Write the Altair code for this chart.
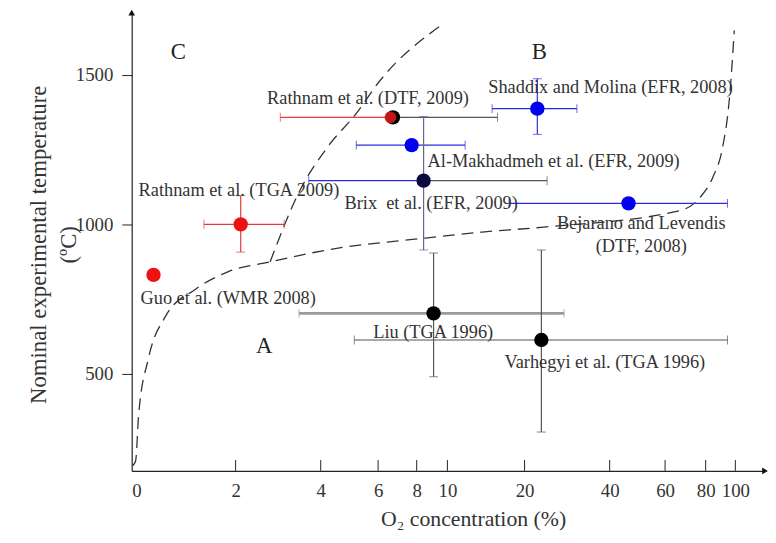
import altair as alt
import pandas as pd

# ---------------- data ----------------
x_ticks = [0, 2, 4, 6, 8, 10, 20, 40, 60, 80, 100]
y_ticks = [500, 1000, 1500]

study = ["Guo", "Rathnam TGA", "Rathnam DTF", "Shaddix", "Al-Makhadmeh",
         "Brix", "Bejarano", "Liu", "Varhegyi"]
o2 = [0.42, 2.12, 6.77, 23.0, 7.74, 8.45, 46.8, 9.1, 23.95]
temp = [831, 1000, 1358, 1387, 1265, 1146, 1070, 702, 613]
o2_lo = [None, 1.39, 3.05, 15.8, 5.24, 3.72, 18.0, 3.49, 5.17]
o2_hi = [None, 3.14, 16.5, 32.3, 12.3, 25.3, 94.7, 29.3, 94.7]
t_lo = [None, 907, None, 1301, None, 914, None, 490, 305]
t_hi = [None, 1096, None, 1487, None, 1361, None, 904, 914]

# boundary curves (dashed)
curve1_x = [0.02, 0.076, 0.133, 0.32, 0.65, 1.22, 1.85, 2.81, 4.21, 8.58, 14.5,
            23.95, 67.3, 77.1, 84.7, 91.3, 96.0, 99.3]
curve1_y = [192, 209, 361, 550, 692, 782, 841, 874, 914, 954, 974,
            990, 1046, 1089, 1156, 1255, 1420, 1649]
curve2_x = [2.81, 3.51, 4.21, 5.24, 6.05, 9.68]
curve2_y = [874, 1113, 1255, 1371, 1477, 1669]

labels = ["Rathnam et al. (DTF, 2009)", "Shaddix and Molina (EFR, 2008)",
          "Al-Makhadmeh et al. (EFR, 2009)", "Rathnam et al. (TGA 2009)",
          "Brix\u00a0 et al. (EFR, 2009)", "Bejarano and Levendis", "(DTF, 2008)",
          "Guo et al. (WMR 2008)", "Liu (TGA 1996)", "Varhegyi et al. (TGA 1996)"]
label_x = [2.74, 15.3, 8.71, 0.133, 4.83, 51.4, 51.4, 0.17, 5.83, 17.4]
label_y = [1421, 1460, 1212, 1113, 1070, 1003, 927, 752, 639, 540]
label_align = ["left", "left", "left", "left", "left", "center", "center",
               "left", "left", "left"]

regions = ["C", "B", "A"]
region_x = [0.9, 23.5, 2.67]
region_y = [1576, 1576, 593]

x_min, x_max = 0, 120
y_min, y_max = 175, 1708

# ---------------- styles ----------------
RED, BLUE, GREY = "#e43a3a", "#2b2bdc", "#555555"
style = {
    "Guo": dict(dot="#ee1111", left=RED, right=RED, vert=RED, hw=1.2),
    "Rathnam TGA": dict(dot="#ee1111", left=RED, right=RED, vert=RED, hw=1.2),
    "Rathnam DTF": dict(dot="#000000", left=RED, right=GREY, vert=GREY, hw=1.2),
    "Shaddix": dict(dot="#0000ee", left=BLUE, right=BLUE, vert=BLUE, hw=1.2),
    "Al-Makhadmeh": dict(dot="#0000ee", left=BLUE, right=BLUE, vert=BLUE, hw=1.2),
    "Brix": dict(dot="#0a0a40", left=BLUE, right=GREY, vert="#66668c", hw=1.2),
    "Bejarano": dict(dot="#0000ee", left=BLUE, right=BLUE, vert=BLUE, hw=1.2),
    "Liu": dict(dot="#000000", left="#9a9a9a", right="#9a9a9a", vert=GREY, hw=2.6),
    "Varhegyi": dict(dot="#000000", left=GREY, right=GREY, vert=GREY, hw=1.2),
}

# ---------------- tables ----------------
pts = pd.DataFrame({"study": study, "o2": o2, "temp": temp})
pts["color"] = [style[s]["dot"] for s in study]

hseg, vseg, hcap, vcap = [], [], [], []
for s, x, y, xl, xh, yl, yh in zip(study, o2, temp, o2_lo, o2_hi, t_lo, t_hi):
    st = style[s]
    if xl is not None:
        hseg.append(dict(x=xl, x2=x, y=y, color=st["left"], w=st["hw"]))
        hseg.append(dict(x=x, x2=xh, y=y, color=st["right"], w=st["hw"]))
        hcap.append(dict(x=xl, y=y, color=st["left"]))
        hcap.append(dict(x=xh, y=y, color=st["right"]))
    if yl is not None:
        vseg.append(dict(x=x, y=yl, y2=yh, color=st["vert"]))
        vcap.append(dict(x=x, y=yl, color=st["vert"]))
        vcap.append(dict(x=x, y=yh, color=st["vert"]))
hseg, vseg, hcap, vcap = map(pd.DataFrame, (hseg, vseg, hcap, vcap))

curves = pd.concat([
    pd.DataFrame({"x": curve1_x, "y": curve1_y, "curve": "1", "i": range(len(curve1_x))}),
    pd.DataFrame({"x": curve2_x, "y": curve2_y, "curve": "2", "i": range(len(curve2_x))}),
])
texts = pd.DataFrame({"label": labels, "x": label_x, "y": label_y, "align": label_align})
regs = pd.DataFrame({"label": regions, "x": region_x, "y": region_y})
ticks_df = pd.DataFrame({"x": x_ticks})

FONT = "Liberation Serif"
TXT = "#333333"

xscale = alt.Scale(domain=[0, 2, 4, 6, 8, 10, 20, 40, 60, 80, 100, 120],
                   range=[0, 105, 191, 249, 288, 319, 397, 483, 539, 580, 610, 640],
                   nice=False, zero=False)
yscale = alt.Scale(domain=[y_min, y_max], nice=False, zero=False)

xaxis = alt.Axis(values=x_ticks, tickSize=0, labelPadding=11, grid=False,
                 labelFont=FONT, labelFontSize=19, labelColor=TXT,
                 domainColor="#222", domainWidth=1.2,
                 title="O\u2082 concentration (%)", titleFont=FONT,
                 titleFontSize=22, titleFontWeight="normal", titleColor=TXT,
                 titleX=345, titleY=38)
yaxis = alt.Axis(values=y_ticks, format="d", tickSize=10, labelPadding=9, grid=False,
                 labelFont=FONT, labelFontSize=19, labelColor=TXT,
                 tickColor="#222", domainColor="#222", domainWidth=1.2,
                 title=["Nominal experimental temperature", "(\u00baC)"],
                 titleFont=FONT, titleFontSize=23, titleFontWeight="normal",
                 titleColor=TXT, titleX=-82, titleY=234, titleAngle=270,
                 titleBaseline="bottom", titleAlign="center",
                 titleLineHeight=30)


def X(f="x"):
    return alt.X(f"{f}:Q", scale=xscale, axis=xaxis)


def Y(f="y"):
    return alt.Y(f"{f}:Q", scale=yscale, axis=yaxis)


xtick_marks = alt.Chart(ticks_df).transform_filter("datum.x > 0").mark_rule(
    color="#222", strokeWidth=1).encode(x=X(), y=alt.value(452), y2=alt.value(463))

arrows = alt.Chart(pd.DataFrame({"x": [x_max, x_min], "y": [y_min, y_max],
                                 "shape": ["triangle-right", "triangle-up"]})).mark_point(
    filled=True, color="#111", size=45, opacity=1).encode(
    x=X(), y=Y(), shape=alt.Shape("shape:N", scale=None))

lines = alt.Chart(curves).mark_line(color="#333", strokeWidth=1.3,
                                    strokeDash=[12, 7], interpolate="monotone").encode(
    x=X(), y=Y(), detail="curve:N", order="i:Q")

hbars = alt.Chart(hseg).mark_rule().encode(
    x=X(), x2="x2:Q", y=Y(), color=alt.Color("color:N", scale=None),
    strokeWidth=alt.StrokeWidth("w:Q", scale=None))
vbars = alt.Chart(vseg).mark_rule(strokeWidth=1.2).encode(
    x=X(), y=Y(), y2="y2:Q", color=alt.Color("color:N", scale=None))
hcaps = alt.Chart(hcap).mark_tick(orient="vertical", size=9, thickness=1).encode(
    x=X(), y=Y(), color=alt.Color("color:N", scale=None))
vcaps = alt.Chart(vcap).mark_tick(orient="horizontal", size=9, thickness=1).encode(
    x=X(), y=Y(), color=alt.Color("color:N", scale=None))

dots = alt.Chart(pts).mark_circle(size=210, opacity=1).encode(
    x=X("o2"), y=Y("temp"), color=alt.Color("color:N", scale=None))
rath = alt.Chart(pts).transform_filter("datum.study == 'Rathnam DTF'").mark_circle(
    size=140, opacity=1, color="#c01818", xOffset=-2.5).encode(x=X("o2"), y=Y("temp"))

text_layer = alt.layer(
    alt.Chart(texts).transform_filter("datum.align == 'left'").mark_text(
        font=FONT, fontSize=18.5, color=TXT, baseline="middle", align="left").encode(
        x=X(), y=Y(), text="label:N"),
    alt.Chart(texts).transform_filter("datum.align == 'center'").mark_text(
        font=FONT, fontSize=18.5, color=TXT, baseline="middle", align="center").encode(
        x=X(), y=Y(), text="label:N"),
)
region_text = alt.Chart(regs).mark_text(font=FONT, fontSize=23, color="#222",
                                        baseline="middle", align="center").encode(
    x=X(), y=Y(), text="label:N")

chart = alt.layer(xtick_marks, lines, hbars, vbars, hcaps, vcaps, dots, rath,
                  text_layer, region_text, arrows).properties(
    width=640, height=463,
    autosize=alt.AutoSizeParams(type="none"),
    padding={"left": 125, "top": 2, "right": 3, "bottom": 60},
    background="white",
).configure_view(stroke=None)

chart.save("out.html", embed_options={"renderer": "svg", "actions": False})
